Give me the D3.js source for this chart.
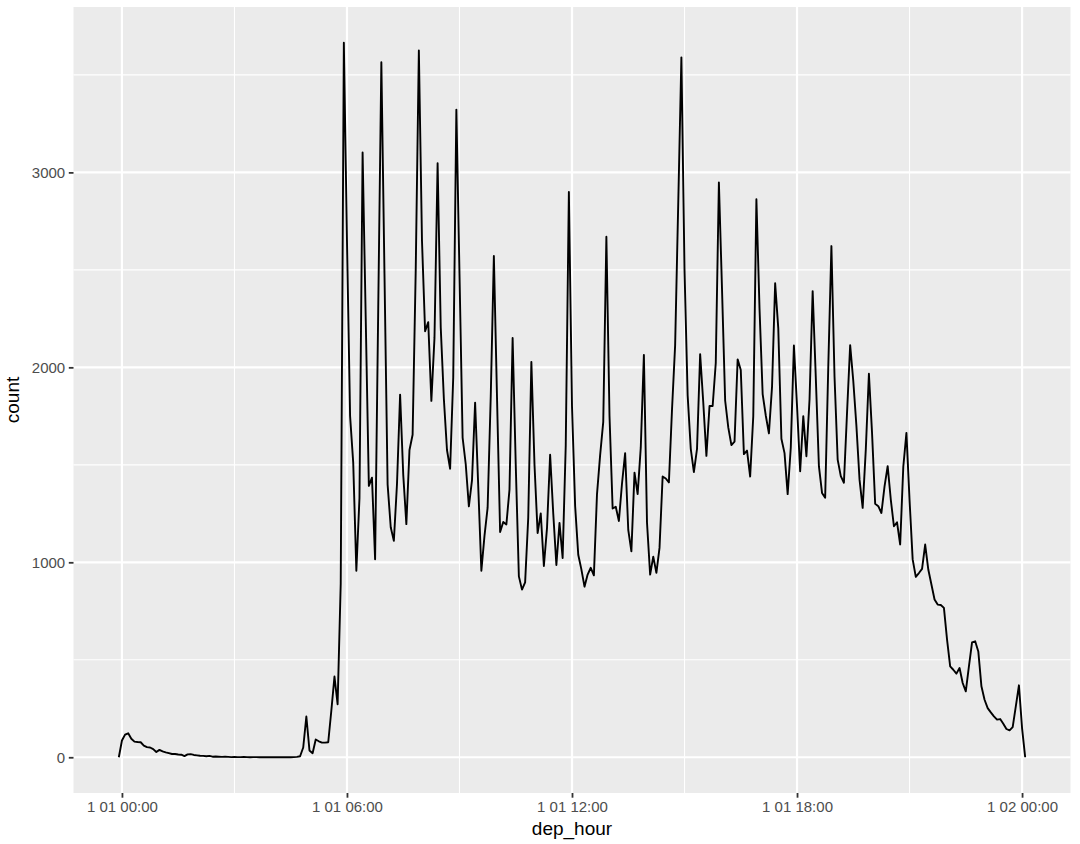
<!DOCTYPE html>
<html><head><meta charset="utf-8">
<script src="https://cdn.jsdelivr.net/npm/d3@7"></script>
<style>
body{margin:0;background:#fff}
svg{display:block}
text{font-family:"Liberation Sans",Arial,Helvetica,sans-serif}
</style>
</head><body>
<svg id="chart" width="1080" height="844"></svg>
<script>
// 5-minute bins of departure time (bin centres in minutes after midnight)
const binStartMinutes = -5;
const binWidthMinutes = 5;
const counts = [
  0, 86, 116, 123, 95, 80, 78, 77, 60, 52,
  50, 42, 27, 38, 30, 25, 21, 17, 17, 14,
  13, 6, 15, 16, 12, 10, 8, 7, 5, 7,
  3, 4, 3, 2, 3, 2, 1, 2, 1, 1,
  2, 1, 0, 1, 1, 0, 1, 0, 1, 0,
  0, 1, 0, 0, 1, 0, 1, 2, 5, 50,
  209, 35, 21, 91, 82, 75, 75, 77, 240, 414,
  272, 890, 3665, 2650, 1750, 1510, 957, 1330, 3102, 2250,
  1392, 1434, 1016, 2300, 3565, 2480, 1400, 1180, 1110, 1400,
  1860, 1450, 1196, 1576, 1654, 2500, 3625, 2650, 2185, 2232,
  1828, 2151, 3047, 2206, 1839, 1576, 1480, 1949, 3322, 2480,
  1640, 1503, 1287, 1420, 1819, 1390, 957, 1136, 1280, 1850,
  2571, 1850, 1155, 1207, 1194, 1373, 2151, 1500, 928, 860,
  897, 1230, 2028, 1500, 1150, 1251, 981, 1175, 1552, 1250,
  986, 1202, 1022, 1600, 2899, 1800, 1290, 1039, 964, 875,
  937, 972, 933, 1350, 1550, 1720, 2670, 1750, 1276, 1285,
  1212, 1404, 1560, 1166, 1056, 1460, 1350, 1588, 2064, 1203,
  937, 1029, 946, 1074, 1440, 1430, 1410, 1784, 2114, 2847,
  3590, 2500, 1857, 1582, 1463, 1582, 2068, 1820, 1546, 1802,
  1802, 2022, 2948, 2400, 1830, 1692, 1601, 1619, 2041, 1986,
  1555, 1573, 1440, 1750, 2862, 2300, 1863, 1753, 1661, 1900,
  2431, 2200, 1634, 1560, 1350, 1588, 2112, 1801, 1467, 1750,
  1544, 1835, 2391, 1950, 1493, 1356, 1331, 2006, 2622, 1950,
  1527, 1442, 1408, 1767, 2114, 1930, 1700, 1424, 1279, 1578,
  1967, 1664, 1300, 1288, 1253, 1390, 1493, 1322, 1185, 1205,
  1091, 1490, 1664, 1320, 1015, 925, 945, 966, 1091, 963,
  886, 809, 783, 781, 766, 603, 466, 449, 429, 458,
  381, 338, 466, 589, 595, 543, 364, 295, 252, 230,
  210, 193, 196, 172, 145, 138, 155, 261, 369, 150,
  0
];
const xTickHours = [0, 6, 12, 18, 24];
const xTickLabels = ["1 01 00:00", "1 01 06:00", "1 01 12:00", "1 01 18:00", "1 02 00:00"];
const xMinorHours = [3, 9, 15, 21];
const yTicks = [0, 1000, 2000, 3000];
const yMinorTicks = [500, 1500, 2500, 3500];
const xTitle = "dep_hour";
const yTitle = "count";

const data = counts.map((c, i) => ({ t: binStartMinutes + i * binWidthMinutes, count: c }));

const panel = { left: 73.5, right: 1070.5, top: 7, bottom: 793 };
const svg = d3.select("#chart");

function expand(ext, f) { const d = (ext[1] - ext[0]) * f; return [ext[0] - d, ext[1] + d]; }

const x = d3.scaleLinear()
  .domain(expand(d3.extent(data, d => d.t), 0.05))
  .range([panel.left, panel.right]);
const y = d3.scaleLinear()
  .domain(expand([0, d3.max(data, d => d.count)], 0.05))
  .range([panel.bottom, panel.top]);

// panel background
svg.append("rect")
  .attr("x", panel.left).attr("y", panel.top)
  .attr("width", panel.right - panel.left).attr("height", panel.bottom - panel.top)
  .attr("fill", "#EBEBEB");

const grid = svg.append("g");
// minor grid
grid.selectAll(".ymin").data(yMinorTicks).join("line")
  .attr("x1", panel.left).attr("x2", panel.right)
  .attr("y1", d => y(d)).attr("y2", d => y(d))
  .attr("stroke", "#fff").attr("stroke-width", 1.1);
grid.selectAll(".xmin").data(xMinorHours).join("line")
  .attr("y1", panel.top).attr("y2", panel.bottom)
  .attr("x1", d => x(d * 60)).attr("x2", d => x(d * 60))
  .attr("stroke", "#fff").attr("stroke-width", 1.1);
// major grid
grid.selectAll(".ymaj").data(yTicks).join("line")
  .attr("x1", panel.left).attr("x2", panel.right)
  .attr("y1", d => y(d)).attr("y2", d => y(d))
  .attr("stroke", "#fff").attr("stroke-width", 2.2);
grid.selectAll(".xmaj").data(xTickHours).join("line")
  .attr("y1", panel.top).attr("y2", panel.bottom)
  .attr("x1", d => x(d * 60)).attr("x2", d => x(d * 60))
  .attr("stroke", "#fff").attr("stroke-width", 2.2);

// line
const line = d3.line().x(d => x(d.t)).y(d => y(d.count));
svg.append("path")
  .datum(data)
  .attr("d", line)
  .attr("fill", "none")
  .attr("stroke", "#000")
  .attr("stroke-width", 1.9)
  .attr("stroke-linejoin", "round");

// axes
const xAxis = d3.axisBottom(x)
  .tickValues(xTickHours.map(h => h * 60))
  .tickFormat((d, i) => xTickLabels[i])
  .tickSize(4.7).tickPadding(3.6);
const gx = svg.append("g").attr("transform", `translate(0,${panel.bottom})`).call(xAxis);

const yAxis = d3.axisLeft(y)
  .tickValues(yTicks)
  .tickFormat(d3.format("d"))
  .tickSize(4.7).tickPadding(3.6);
const gy = svg.append("g").attr("transform", `translate(${panel.left},0)`).call(yAxis);

[gx, gy].forEach(g => {
  g.select(".domain").remove();
  g.selectAll(".tick line").attr("stroke", "#333333").attr("stroke-width", 1.8);
  g.selectAll(".tick text").attr("fill", "#4D4D4D").style("font-size", "15px");
});

svg.append("text")
  .attr("x", (panel.left + panel.right) / 2).attr("y", 835)
  .attr("text-anchor", "middle").attr("fill", "#000")
  .style("font-size", "19px").text(xTitle);

svg.append("text")
  .attr("transform", `translate(18.5,${(panel.top + panel.bottom) / 2}) rotate(-90)`)
  .attr("text-anchor", "middle").attr("fill", "#000")
  .style("font-size", "19px").text(yTitle);
</script>
</body></html>
